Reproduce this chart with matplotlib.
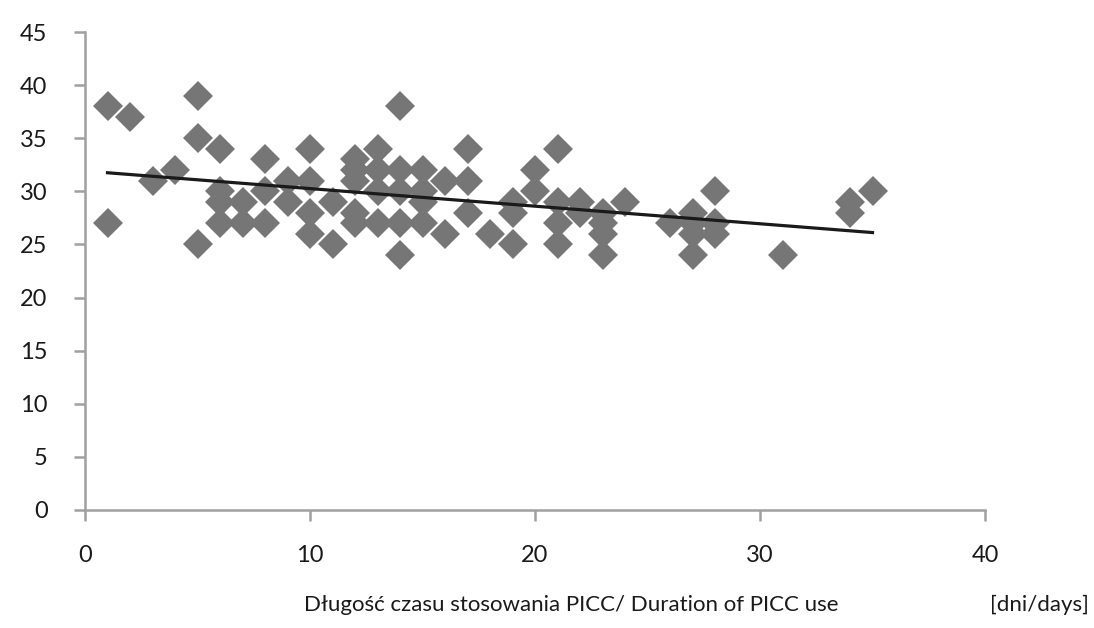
from matplotlib import pyplot as plt
import numpy as np

# days of PICC use and measured value for each patient
days = [1, 1, 2, 3, 4, 5, 5, 5,
        6, 6, 6, 6, 7, 7, 8, 8, 8, 9, 9,
        10, 10, 10, 10, 11, 11,
        12, 12, 12, 12, 12, 13, 13, 13, 13,
        14, 14, 14, 14, 14, 15, 15, 15, 15,
        16, 16, 17, 17, 17, 18, 19, 19, 19,
        20, 20, 21, 21, 21, 21, 22, 22,
        23, 23, 23, 23, 24, 26, 27, 27, 27, 27,
        28, 28, 28, 31, 34, 34, 35]
values = [38, 27, 37, 31, 32, 39, 35, 25,
          34, 30, 29, 27, 29, 27, 33, 30, 27, 31, 29,
          34, 31, 28, 26, 29, 25,
          33, 32, 31, 28, 27, 34, 32, 30, 27,
          38, 32, 30, 27, 24, 32, 30, 29, 27,
          31, 26, 34, 31, 28, 26, 29, 28, 25,
          32, 30, 34, 29, 27, 25, 29, 28,
          28, 27, 26, 24, 29, 27, 28, 27, 26, 24,
          30, 27, 26, 24, 29, 28, 30]

x = np.array(days)
y = np.array(values)
a, b = np.polyfit(x, y, 1)

plt.rcParams['font.family'] = ['Lato', 'DejaVu Sans']
fig = plt.figure(figsize=(10.94, 6.28), dpi=100)
ax = fig.add_axes([0.0777, 0.188, 0.8227, 0.761])

ax.plot(x, y, 'D', color='#767676', markersize=15, markeredgewidth=0, zorder=2)
xl = np.array([x.min(), x.max()])
ax.plot(xl, a * xl + b, color='#1a1a1a', linewidth=2.3, zorder=3)

ax.set_xlim(0, 40)
ax.set_ylim(0, 45)
ax.set_xticks(range(0, 41, 10))
ax.set_yticks(range(0, 46, 5))
for s in ['top', 'right']:
    ax.spines[s].set_visible(False)
for s in ['left', 'bottom']:
    ax.spines[s].set_color('#a0a0a0')
    ax.spines[s].set_linewidth(1.8)
ax.tick_params(axis='both', colors='#a0a0a0', width=1.8, length=8,
               labelcolor='#1a1a1a', labelsize=17)
ax.tick_params(axis='y', pad=19)
ax.tick_params(axis='x', pad=17)

fig.text(0.522, 0.037, 'Długość czasu stosowania PICC/ Duration of PICC use',
         ha='center', va='center', fontsize=16, color='#1a1a1a')
fig.text(0.995, 0.037, '[dni/days]', ha='right', va='center',
         fontsize=16, color='#1a1a1a')

plt.savefig('out.png', dpi=100)
